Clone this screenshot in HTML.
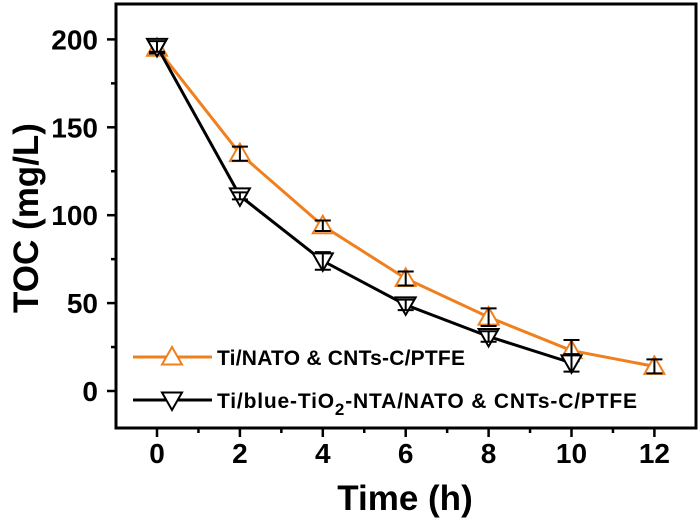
<!DOCTYPE html>
<html><head><meta charset="utf-8"><style>
body{margin:0;background:#fff}
svg text{font-family:"Liberation Sans",sans-serif;font-weight:bold}
</style></head><body>
<svg id="chart" width="700" height="525"></svg>
<script>
const xVals=[0,2,4,6,8,10,12];
const orangeVals=[195,135,94,64,42,23,14];
const orangeErr=[3,4,3,4,5,6,4];
const blackX=[0,2,4,6,8,10];
const blackVals=[196,111,74,49,31,16];
const blackErr=[3,2,5,3,3,5];
const xTicks=[0,2,4,6,8,10,12];
const yTicks=[0,50,100,150,200];
const L=116,R=696,T=4,B=428;
const X=v=>157+(v/2)*82.9;
const Y=v=>391-v*1.758;
const NS="http://www.w3.org/2000/svg";
const svg=document.getElementById('chart');
function mk(t,a,p){const e=document.createElementNS(NS,t);for(const k in a)e.setAttribute(k,a[k]);(p||svg).appendChild(e);return e;}
const frame=mk('rect',{x:L,y:T,width:R-L,height:B-T,fill:'none',stroke:'#000','stroke-width':3});


for(let v=0;v<=12;v++){const t=mk('line',{x1:X(v),x2:X(v),y1:B,y2:B+(v%2?5:9),stroke:'#000','stroke-width':2.5});

}
xTicks.forEach(v=>{const t=mk('text',{x:X(v),y:463,'text-anchor':'middle','font-size':28});t.textContent=v;

});
for(let v=0;v<=225;v+=25){const yy=Y(v);if(yy<T)continue;const t=mk('line',{x1:L-(v%50?5:9),x2:L,y1:yy,y2:yy,stroke:'#000','stroke-width':2.5});

}
yTicks.forEach(v=>{const t=mk('text',{x:98,y:Y(v)+10,'text-anchor':'end','font-size':28});t.textContent=v;

});
const xt=mk('text',{x:405,y:510,'text-anchor':'middle','font-size':35});xt.textContent='Time (h)';


const yt=mk('text',{x:0,y:0,'text-anchor':'middle','font-size':35,transform:'translate(38,218) rotate(-90)'});yt.textContent='TOC (mg/L)';


function tri(cx,cy,up,col,name){const s=10;const pts=up?`${cx},${cy-s} ${cx-s},${cy+s*0.75} ${cx+s},${cy+s*0.75}`:`${cx},${cy+s} ${cx-s},${cy-s*0.75} ${cx+s},${cy-s*0.75}`;
const p=mk('polygon',{points:pts,fill:'#fff',stroke:col,'stroke-width':2});

}
function series(xs,vs,es,col,up,name){
const pl=mk('polyline',{points:xs.map((x,i)=>X(x)+','+Y(vs[i])).join(' '),fill:'none',stroke:col,'stroke-width':3});


xs.forEach((x,i)=>{tri(X(x),Y(vs[i]),up,col,name+'-point');
const g=mk('path',{d:`M${X(x)-8},${Y(vs[i]+es[i])}H${X(x)+8}M${X(x)},${Y(vs[i]+es[i])}V${Y(vs[i]-es[i])}M${X(x)-8},${Y(vs[i]-es[i])}H${X(x)+8}`,stroke:'#000','stroke-width':2,fill:'none'});

});}
series(xVals,orangeVals,orangeErr,'#f0801e',true,'orange-series');
series(blackX,blackVals,blackErr,'#000',false,'black-series');
[[357,'#f0801e',true,'Ti/NATO & CNTs-C/PTFE','legend-entry-orange'],[400,'#000',false,null,'legend-entry-black']].forEach(([y,c,up,txt,nm])=>{
const l=mk('line',{x1:133,x2:212,y1:y,y2:y,stroke:c,'stroke-width':3});


tri(172,y,up,c,nm+'-marker');
const t=mk('text',{x:217,y:y+8,'font-size':21,textLength:up?248:0});
if(!up)t.setAttribute('textLength',420);


if(txt)t.textContent=txt;else t.innerHTML='Ti/blue-TiO<tspan dy="7" font-size="17">2</tspan><tspan dy="-7">-NTA/NATO &amp; CNTs-C/PTFE</tspan>';});
</script>
</body></html>
